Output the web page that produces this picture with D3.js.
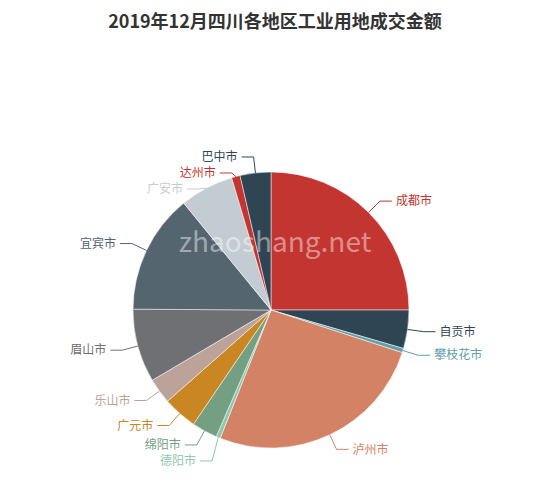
<!DOCTYPE html>
<html><head><meta charset="utf-8">
<script src="https://cdn.jsdelivr.net/npm/d3@7"></script>
<style>body{margin:0;background:#fff;font-family:"Noto Sans CJK SC","Noto Sans",sans-serif}</style>
</head><body><div id="chart"></div>
<script>
// data
const cities = ["成都市","自贡市","攀枝花市","泸州市","德阳市","绵阳市","广元市","乐山市","眉山市","宜宾市","广安市","达州市","巴中市"];
const values = [25, 4.5, 0.5, 26, 0.5, 3, 4, 3, 8.6, 14, 6.3, 1, 3.6];
const colors = ["#c23531","#2f4554","#61a0a8","#d48265","#91c7ae","#749f83","#ca8622","#bda29a","#6e7074","#546570","#c4ccd3","#c23531","#2f4554"];

const width = 550, height = 490;
const cx = 271, cy = 310, r = 138;

const svg = d3.select("#chart").append("svg")
    .attr("width", width).attr("height", height);

svg.append("text")
    .attr("x", width / 2).attr("y", 28)
    .attr("text-anchor", "middle")
    .style("font-size", "18px").style("font-weight", "bold")
    .attr("fill", "#333")
    .text("2019年12月四川各地区工业用地成交金额");

const pie = d3.pie().sort(null).value(d => d.v);
const arcs = pie(cities.map((c, i) => ({ c, v: values[i], col: colors[i] })));
const arc = d3.arc().innerRadius(0).outerRadius(r);

const g = svg.append("g").attr("transform", `translate(${cx},${cy})`);
g.selectAll("path").data(arcs).join("path")
    .attr("d", arc)
    .attr("fill", d => d.data.col)
    .attr("stroke", "#fff").attr("stroke-width", 0.5);

// watermark
svg.append("text")
    .attr("x", 275).attr("y", 252)
    .attr("text-anchor", "middle")
    .style("font-size", "28px")
    .attr("fill", "rgba(255,255,255,0.45)")
    .text("zhaoshang.net");

// label layout: place at r+16, push apart on each side
const gap = 16;
const labels = arcs.map(d => {
    const a = (d.startAngle + d.endAngle) / 2;
    const sx = Math.sin(a), sy = -Math.cos(a);
    return { d, a, right: sx >= 0,
        x0: sx * r, y0: sy * r,
        x1: sx * (r + 16), y1: sy * (r + 16) };
});
[true, false].forEach(side => {
    const list = labels.filter(l => l.right === side).sort((a, b) => a.y1 - b.y1);
    for (let i = 1; i < list.length; i++) {
        if (list[i].y1 - list[i - 1].y1 < gap) list[i].y1 = list[i - 1].y1 + gap;
    }
    for (let i = list.length - 2; i >= 0; i--) {
        if (list[i + 1].y1 - list[i].y1 < gap) list[i].y1 = list[i + 1].y1 - gap;
    }
});
labels.forEach(l => {
    const dir = l.right ? 1 : -1;
    const x2 = l.x1 + dir * 12;
    g.append("polyline")
        .attr("points", `${l.x0},${l.y0} ${l.x1},${l.y1} ${x2},${l.y1}`)
        .attr("fill", "none").attr("stroke", l.d.data.col).attr("stroke-width", 1);
    g.append("text")
        .attr("x", x2 + dir * 4).attr("y", l.y1)
        .attr("dy", "0.35em")
        .attr("text-anchor", l.right ? "start" : "end")
        .style("font-size", "12px")
        .attr("fill", l.d.data.col)
        .text(l.d.data.c);
});
</script></body></html>
